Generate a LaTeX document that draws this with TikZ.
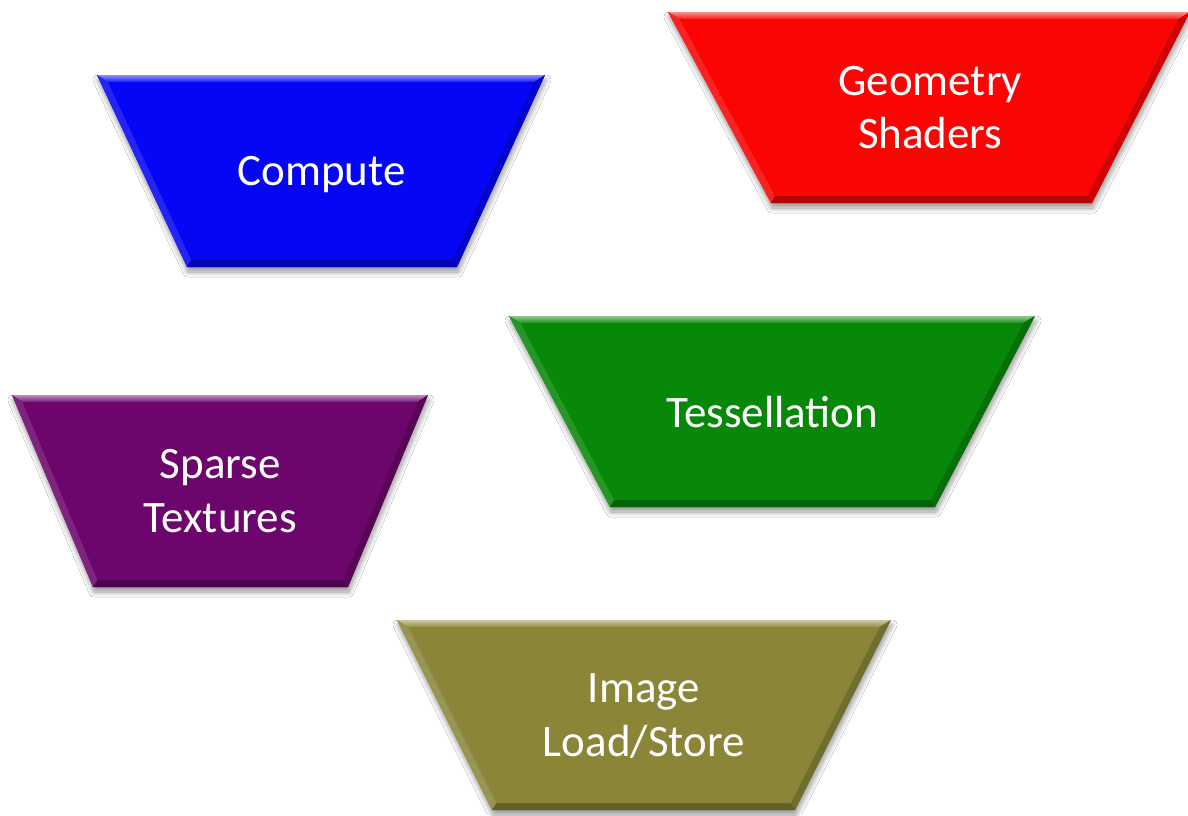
\documentclass[tikz,border=0pt]{standalone}
\usepackage{fontspec}
\setmainfont{Carlito}
\usetikzlibrary{shadows.blur}

\definecolor{cmpblue}{RGB}{6,6,246}
\definecolor{geored}{RGB}{250,4,4}
\definecolor{tessgreen}{RGB}{8,136,8}
\definecolor{sparsepurple}{RGB}{108,6,108}
\definecolor{imgolive}{RGB}{139,133,56}

\tikzset{
  facelabel/.style={text=white, align=center, inner sep=0pt, text depth=0pt,
    font=\fontsize{45}{53.5}\selectfont},
  boxshadow/.style={blur shadow={shadow xshift=1pt, shadow yshift=-5pt,
    shadow blur radius=5pt, shadow blur steps=10, shadow opacity=40}}
}

% bevelled trapezoid: name, colour, top-left x, top-right x, top y,
% bottom-left x, bottom-right x, bottom y, label
\newcommand\bevtrap[9]{%
  \pgfmathsetmacro\bvD{7}%
  \pgfmathsetmacro\bvSL{(#6-#3)/(#8-#5)}%
  \pgfmathsetmacro\bvSR{(#7-#4)/(#8-#5)}%
  \pgfmathsetmacro\bvHL{\bvD*sqrt(1+\bvSL*\bvSL)}%
  \pgfmathsetmacro\bvHR{\bvD*sqrt(1+\bvSR*\bvSR)}%
  \coordinate (#1-tl) at (#3,#5);
  \coordinate (#1-tr) at (#4,#5);
  \coordinate (#1-bl) at (#6,#8);
  \coordinate (#1-br) at (#7,#8);
  \coordinate (#1-itl) at ({#3+\bvSL*\bvD+\bvHL},{#5+\bvD});
  \coordinate (#1-itr) at ({#4+\bvSR*\bvD-\bvHR},{#5+\bvD});
  \coordinate (#1-ibl) at ({#6-\bvSL*\bvD+\bvHL},{#8-\bvD});
  \coordinate (#1-ibr) at ({#7-\bvSR*\bvD-\bvHR},{#8-\bvD});
  \fill[#2, boxshadow] (#1-tl) -- (#1-tr) -- (#1-br) -- (#1-bl) -- cycle;
  \shade[top color=#2!45!white, bottom color=#2!92!white]
    (#1-tl) -- (#1-tr) -- (#1-itr) -- (#1-itl) -- cycle;
  \fill[#2!88!white] (#1-tl) -- (#1-itl) -- (#1-ibl) -- (#1-bl) -- cycle;
  \fill[#2!82!black] (#1-tr) -- (#1-br) -- (#1-ibr) -- (#1-itr) -- cycle;
  \fill[#2!72!black] (#1-bl) -- (#1-ibl) -- (#1-ibr) -- (#1-br) -- cycle;
  \fill[#2] (#1-itl) -- (#1-itr) -- (#1-ibr) -- (#1-ibl) -- cycle;
  \node[facelabel] (#1) at ({(#3+#4+#6+#7)/4},{(#5+#8)/2}) {#9};
}

\begin{document}
\begin{tikzpicture}[x=1pt,y=-1pt]
  \useasboundingbox[fill=white] (0,0) rectangle (1188,815);
  \bevtrap{compute}{cmpblue}{97}{545}{75}{187}{457}{267}{Compute}
  \bevtrap{geometry}{geored}{668}{1190}{12}{771}{1092}{203}{Geometry\\Shaders}
  \bevtrap{tess}{tessgreen}{509}{1035}{316}{610}{935}{507}{Tessellation}
  \bevtrap{sparse}{sparsepurple}{12}{428}{395}{93}{348}{587}{Sparse\\Textures}
  \bevtrap{image}{imgolive}{397}{891}{620}{492}{795}{810}{Image\\Load/Store}
\end{tikzpicture}
\end{document}
